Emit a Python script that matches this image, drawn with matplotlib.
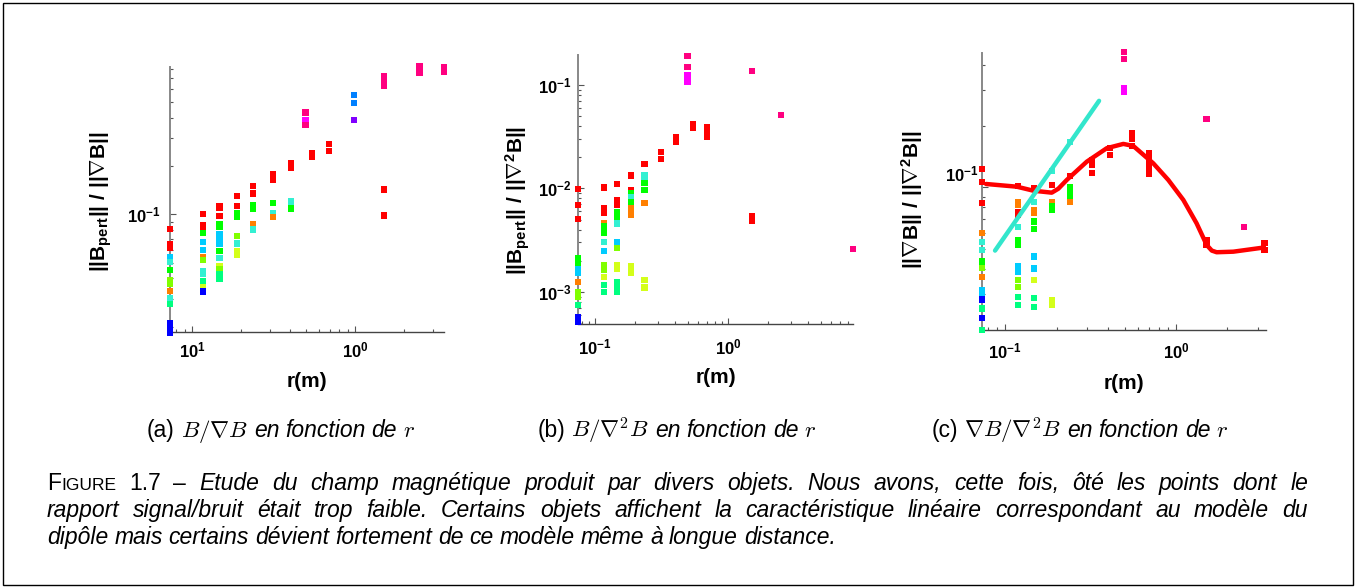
"""
Figure 1.7 - B/gradB, B/lapB and gradB/lapB versus r (three log-log panels)
"""

import matplotlib
matplotlib.use('Agg')
import matplotlib.pyplot as plt
import matplotlib.ticker as ticker
from matplotlib.patches import Rectangle
from matplotlib.transforms import ScaledTranslation
import numpy as np

W, H = 1355, 587

# colour codes of the objects (jet-like palette)
colors = {'R': '#ff0000', 'O': '#ff7f00', 'Y': '#d4ff1a', 'L': '#80ff00',
          'G': '#00ff00', 'M': '#00ff80', 'T': '#33f0d2', 'S': '#00ccff',
          'D': '#0080ff', 'B': '#0000ff', 'V': '#8000ff', 'Mg': '#ff00ff',
          'P': '#ff0080'}

# ---- panel (a): ||Bpert|| / ||grad B|| ----
a_r = [0.073] * 14 + [0.117] * 13 + [0.147] * 14 + [0.188] * 8 + [0.236] * 6 \
    + [0.315] * 5 + [0.404] * 5 + [0.497] * 3 + [0.544] * 2 + [0.693] * 2 \
    + [0.986] * 3 + [1.50] * 5 + [2.49] * 3 + [3.54] * 2
a_val = [0.081, 0.065, 0.062, 0.054, 0.0505, 0.045, 0.039, 0.037, 0.0335, 0.0304, 0.0277, 0.0212, 0.0198, 0.0184,
         0.101, 0.0853, 0.0814, 0.0764, 0.0672, 0.0601, 0.054, 0.052, 0.0447, 0.0426, 0.0387, 0.0355, 0.0332,
         0.112, 0.110, 0.0976, 0.0875, 0.0834, 0.0757, 0.0705, 0.0656, 0.0596, 0.0536, 0.048, 0.0458, 0.0426, 0.0397,
         0.130, 0.113, 0.102, 0.0962, 0.0732, 0.066, 0.0596, 0.0562,
         0.150, 0.135, 0.114, 0.109, 0.0875, 0.0806,
         0.178, 0.163, 0.118, 0.102, 0.0962,
         0.207, 0.196, 0.121, 0.116, 0.109,
         0.43, 0.387, 0.361,
         0.24, 0.228,
         0.273, 0.248,
         0.555, 0.49, 0.387,
         0.721, 0.671, 0.625, 0.143, 0.0986,
         0.841, 0.794, 0.757,
         0.82, 0.768]
a_col = ['R', 'R', 'R', 'S', 'T', 'G', 'L', 'L', 'O', 'T', 'M', 'B', 'B', 'B',
         'R', 'R', 'R', 'G', 'S', 'S', 'O', 'L', 'T', 'T', 'M', 'Y', 'B',
         'R', 'R', 'R', 'G', 'G', 'S', 'S', 'S', 'G', 'T', 'Y', 'L', 'M', 'M',
         'R', 'R', 'G', 'G', 'L', 'T', 'Y', 'Y',
         'R', 'R', 'G', 'G', 'O', 'T',
         'R', 'R', 'G', 'T', 'O',
         'R', 'R', 'T', 'T', 'G',
         'P', 'Mg', 'P',
         'R', 'R',
         'R', 'R',
         'D', 'D', 'V',
         'P', 'P', 'P', 'R', 'R',
         'P', 'P', 'P',
         'P', 'P']

# ---- panel (b): ||Bpert|| / ||lap B|| ----
b_r = [0.075] * 13 + [0.117] * 13 + [0.147] * 13 + [0.186] * 9 + [0.236] * 8 \
    + [0.315] * 2 + [0.407] * 2 + [0.496] * 4 + [0.547] * 2 + [0.697] * 3 \
    + [1.51] * 3 + [2.51] + [8.7]
b_val = [0.00986, 0.0069, 0.0051, 0.00211, 0.00191, 0.00165, 0.00151, 0.00124, 0.00100, 0.00090, 0.00074, 0.000574, 0.000514,
         0.0102, 0.0064, 0.00585, 0.00465, 0.00427, 0.00368, 0.00305, 0.0025, 0.00181, 0.00163, 0.00138, 0.00116, 0.00100,
         0.0110, 0.00774, 0.0069, 0.00596, 0.00533, 0.00458, 0.00302, 0.00263, 0.00182, 0.00165, 0.00123, 0.00108, 0.00100,
         0.0133, 0.0097, 0.0090, 0.0082, 0.0074, 0.0064, 0.0056, 0.00176, 0.00152,
         0.0171, 0.0135, 0.0125, 0.0112, 0.0097, 0.0072, 0.00131, 0.00110,
         0.0226, 0.0193,
         0.0312, 0.0283,
         0.192, 0.148, 0.126, 0.108,
         0.0417, 0.0381,
         0.039, 0.0341, 0.0312,
         0.136, 0.00544, 0.00484,
         0.0513,
         0.00258]
b_col = ['R', 'R', 'R', 'G', 'G', 'S', 'S', 'O', 'L', 'L', 'M', 'B', 'B',
         'R', 'R', 'R', 'O', 'G', 'G', 'T', 'S', 'L', 'L', 'Y', 'M', 'M',
         'R', 'R', 'R', 'G', 'G', 'T', 'S', 'L', 'Y', 'Y', 'M', 'M', 'M',
         'R', 'R', 'G', 'T', 'G', 'O', 'O', 'Y', 'Y',
         'R', 'T', 'T', 'G', 'G', 'O', 'Y', 'Y',
         'R', 'R',
         'R', 'R',
         'P', 'P', 'Mg', 'Mg',
         'R', 'R',
         'R', 'R', 'R',
         'P', 'R', 'R',
         'P',
         'P']

# ---- panel (c): ||grad B|| / ||lap B|| ----
c_r = [0.0736] * 15 + [0.119] * 14 + [0.148] * 11 + [0.1875] * 7 + [0.24] * 6 \
    + [0.321] * 3 + [0.411] * 2 + [0.499] * 4 + [0.556] * 3 + [0.699] * 5 \
    + [1.51] * 3 + [2.51] + [3.3] * 2
c_val = [0.123, 0.1066, 0.0836, 0.060, 0.0542, 0.0493, 0.0433, 0.0401, 0.0365, 0.0314, 0.0303, 0.0282, 0.0255, 0.0228, 0.020,
         0.1016, 0.085, 0.082, 0.076, 0.073, 0.064, 0.055, 0.052, 0.041, 0.0386, 0.0352, 0.0326, 0.0291, 0.0265,
         0.099, 0.085, 0.0775, 0.0746, 0.068, 0.0623, 0.0458, 0.040, 0.0352, 0.0286, 0.026,
         0.1207, 0.1027, 0.085, 0.081, 0.0775, 0.028, 0.0265,
         0.1675, 0.1137, 0.1008, 0.094, 0.0885, 0.085,
         0.136, 0.129, 0.118,
         0.156, 0.144,
         0.46, 0.425, 0.306, 0.295,
         0.185, 0.172, 0.16,
         0.147, 0.140, 0.132, 0.125, 0.117,
         0.216, 0.0553, 0.052,
         0.0637,
         0.0536, 0.0494]
c_col = ['R', 'R', 'R', 'O', 'T', 'T', 'G', 'L', 'O', 'S', 'S', 'B', 'M', 'B', 'M',
         'R', 'O', 'O', 'R', 'R', 'T', 'G', 'G', 'S', 'S', 'L', 'L', 'M', 'M',
         'R', 'T', 'O', 'O', 'G', 'G', 'S', 'S', 'Y', 'M', 'M',
         'T', 'R', 'O', 'G', 'G', 'Y', 'Y',
         'T', 'R', 'G', 'G', 'G', 'O',
         'R', 'R', 'R',
         'R', 'R',
         'P', 'P', 'Mg', 'Mg',
         'R', 'R', 'R',
         'R', 'R', 'R', 'R', 'R',
         'P', 'R', 'R',
         'P',
         'R', 'R']

# fitted curves drawn on panel (c)
c_fit_r = [0.0774, 0.117, 0.1466, 0.1876, 0.205, 0.2296, 0.3006, 0.3936, 0.4921, 0.5625,
           0.7365, 0.902, 1.104, 1.32, 1.513, 1.62, 1.730, 2.165, 3.31]
c_fit_v = [0.1039, 0.1008, 0.0963, 0.0942, 0.0985, 0.1087, 0.1336, 0.1556, 0.1633, 0.1596,
           0.1312, 0.1087, 0.0868, 0.0667, 0.0522, 0.0490, 0.0481, 0.0484, 0.0508]
c_lin_r = [0.0874, 0.3548]
c_lin_v = [0.049, 0.2655]

plt.rcParams['font.family'] = 'Liberation Sans'
plt.rcParams['mathtext.fontset'] = 'custom'
plt.rcParams['mathtext.rm'] = 'Liberation Sans'
plt.rcParams['mathtext.bf'] = 'Liberation Sans:bold'
plt.rcParams['mathtext.it'] = 'Liberation Sans:italic'

fig = plt.figure(figsize=(W / 100, H / 100), dpi=100)


def add_ax(l, t, r, b):
    return fig.add_axes([l / W, 1 - b / H, (r - l) / W, (b - t) / H])


panels = [
    dict(box=(170, 66.7, 444.3, 332), r=a_r, v=a_val, c=a_col,
         xlim=(0.073, 3.54), ylim=(0.0186, 0.828),
         xt=[0.1, 1], xtl=[r'$\mathbf{10^{1}}$', r'$\mathbf{10^{0}}$'],
         yt=[0.1], ytl=[r'$\mathbf{10^{-1}}$'],
         ylabel=r'$\mathbf{||B_{pert}||\ /\ ||\nabla B||}$',
         xpad=6, ypad=7, ylab_x=-0.249, ylab_y=0.49, xlab_y=-0.187),
    dict(box=(578.3, 55, 853.3, 324), r=b_r, v=b_val, c=b_col,
         xlim=(0.075, 8.77), ylim=(0.000488, 0.195),
         xt=[0.1, 1], xtl=[r'$\mathbf{10^{-1}}$', r'$\mathbf{10^{0}}$'],
         yt=[0.001, 0.01, 0.1],
         ytl=[r'$\mathbf{10^{-3}}$', r'$\mathbf{10^{-2}}$', r'$\mathbf{10^{-1}}$'],
         ylabel=r'$\mathbf{||B_{pert}||\ /\ ||\nabla^2 B||}$',
         xpad=10, ypad=5, ylab_x=-0.219, ylab_y=0.46, xlab_y=-0.2),
    dict(box=(982.3, 53.3, 1265.7, 330), r=c_r, v=c_val, c=c_col,
         xlim=(0.0736, 3.35), ylim=(0.02, 0.454),
         xt=[0.1, 1], xtl=[r'$\mathbf{10^{-1}}$', r'$\mathbf{10^{0}}$'],
         yt=[0.1], ytl=[r'$\mathbf{10^{-1}}$'],
         ylabel=r'$\mathbf{||\nabla B||\ /\ ||\nabla^2 B||}$',
         xpad=8, ypad=3, ylab_x=-0.249, ylab_y=0.47, xlab_y=-0.193),
]

axes = []
for p in panels:
    ax = add_ax(*p['box'])
    axes.append(ax)
    ax.set_xscale('log')
    ax.set_yscale('log')
    ax.scatter(p['r'], p['v'], c=[colors[k] for k in p['c']], marker='s',
               s=20, linewidths=0, clip_on=False, zorder=3)
    ax.set_xlim(*p['xlim'])
    ax.set_ylim(*p['ylim'])

    ax.xaxis.set_major_locator(ticker.FixedLocator(p['xt']))
    ax.xaxis.set_major_formatter(ticker.FixedFormatter(p['xtl']))
    ax.yaxis.set_major_locator(ticker.FixedLocator(p['yt']))
    ax.yaxis.set_major_formatter(ticker.FixedFormatter(p['ytl']))
    for axis in (ax.xaxis, ax.yaxis):
        axis.set_minor_locator(ticker.LogLocator(base=10, subs=np.arange(2, 10), numticks=20))
        axis.set_minor_formatter(ticker.NullFormatter())

    ax.tick_params(which='both', direction='in', colors='#555555', labelcolor='black', width=0.8)
    ax.tick_params(which='major', length=4, labelsize=12)
    ax.tick_params(which='minor', length=2.2)
    ax.tick_params(axis='x', pad=p['xpad'])
    ax.tick_params(axis='y', pad=p['ypad'])

    for side in ('top', 'right'):
        ax.spines[side].set_visible(False)
    ax.spines['left'].set_color('#888888')
    ax.spines['left'].set_linewidth(1.4)
    ax.spines['bottom'].set_color('#444444')
    ax.spines['bottom'].set_linewidth(1.0)
    ax.set_facecolor('none')

    ax.set_xlabel('r(m)', fontsize=15, fontweight='bold')
    ax.xaxis.set_label_coords(0.5, p['xlab_y'])
    ax.xaxis.label.set_va('center')
    ax.set_ylabel(p['ylabel'], fontsize=15)
    ax.yaxis.set_label_coords(p['ylab_x'], p['ylab_y'])
    ax.yaxis.label.set_va('center')

# panel (c) fits
axes[2].plot(c_fit_r, c_fit_v, color='#ff0000', lw=3.2, solid_capstyle='round',
             solid_joinstyle='round', zorder=4)
axes[2].plot(c_lin_r, c_lin_v, color='#33e6cc', lw=3.2, solid_capstyle='round', zorder=4)
# the 10^-1 label of panel (c) sits a little above its tick
for lab in axes[2].get_yticklabels():
    lab.set_transform(lab.get_transform() + ScaledTranslation(0, 0.14, fig.dpi_scale_trans))

# ---- captions (pieces laid out in pixels) ----
up = dict(fontsize=16.5, family='Liberation Sans')
it = dict(fontsize=16.5, family='Liberation Sans', style='italic')
mth = dict(fontsize=16.5, math_fontfamily='cm')


def words(s, kw):
    out = []
    for i, w in enumerate(s.split(' ')):
        if i:
            out.append((' ', None))
        out.append((w, kw))
    return out


def put_line(tokens, yb, x0=None, x1=None, center=None, space=6):
    rend = fig.canvas.get_renderer()
    arts = [None if kw is None else fig.text(0, 0, s, va='baseline', **kw) for s, kw in tokens]
    widths = [a.get_window_extent(rend).width if a is not None else 0 for a in arts]
    n = arts.count(None)
    if x1 is not None:
        gap = (x1 - x0 - sum(widths)) / n
    else:
        gap = space
    if center is not None:
        x0 = center - (sum(widths) + n * gap) / 2
    x = x0
    for a, w in zip(arts, widths):
        if a is None:
            x += gap
        else:
            a.set_position((x / W, 1 - yb / H))
            x += w


sub_math = [r'$B/\nabla B$', r'$B/\nabla^2 B$', r'$\nabla B/\nabla^2 B$']
sub_lab = ['(a)', '(b)', '(c)']
sub_cx = [281, 677, 1080]
for lab, m, cx in zip(sub_lab, sub_math, sub_cx):
    toks = [(lab, up), (' ', None), (m, mth), (' ', None)] + words('en fonction de', it) \
        + [(' ', None), ('$r$', mth)]
    put_line(toks, 437, center=cx)

line1 = [('F', up), ('IGURE', dict(fontsize=12.5, family='Liberation Sans')),
         (' ', None), ('1.7', up), (' ', None), ('–', up), (' ', None)] \
    + words('Etude du champ magnétique produit par divers objets. Nous avons, cette fois, '
            'ôté les points dont le', it)
line2 = words('rapport signal/bruit était trop faible. Certains objets affichent la '
              'caractéristique linéaire correspondant au modèle du', it)
line3 = words('dipôle mais certains dévient fortement de ce modèle même à longue distance.', it)
put_line(line1, 490, x0=47, x1=1308)
put_line(line2, 517, x0=47, x1=1308)
put_line(line3, 544, x0=47)

# outer frame
fig.add_artist(Rectangle((2.5 / W, 2.5 / H), (W - 5) / W, (H - 5) / H,
                         transform=fig.transFigure, fill=False, ec='black', lw=1))

plt.savefig('out.png', dpi=100)
plt.close()
